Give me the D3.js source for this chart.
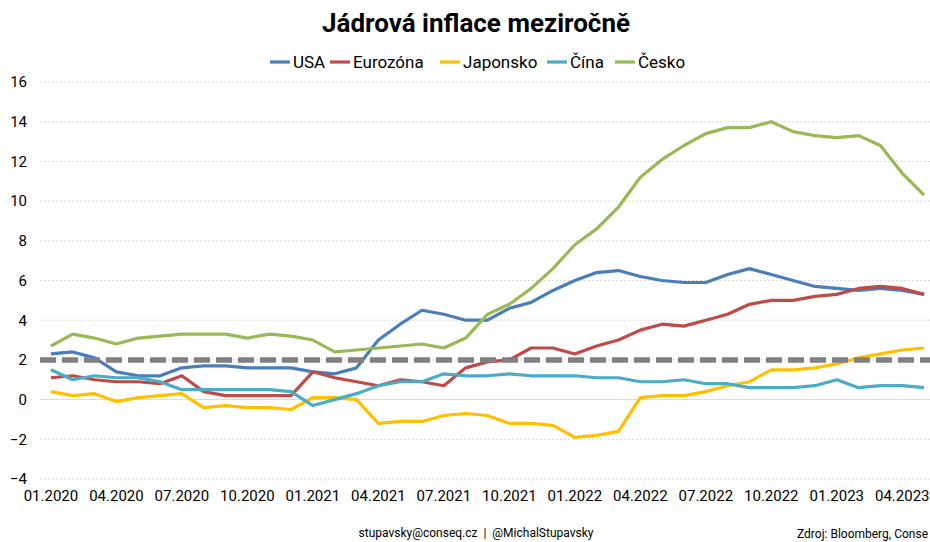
<!DOCTYPE html>
<html>
<head>
<meta charset="utf-8">
<script src="https://cdn.jsdelivr.net/npm/d3@7"></script>
<style>
	body { margin: 0; background: #fff; overflow: hidden; }
	#chart { width: 930px; height: 542px; }
	text { font-family: "Liberation Sans Narrow", "Roboto", sans-serif; fill: #000; }
</style>
</head>
<body>
<div id="chart"></div>
<script>
const months = [
	"01.2020","02.2020","03.2020","04.2020","05.2020","06.2020","07.2020","08.2020","09.2020","10.2020","11.2020","12.2020",
	"01.2021","02.2021","03.2021","04.2021","05.2021","06.2021","07.2021","08.2021","09.2021","10.2021","11.2021","12.2021",
	"01.2022","02.2022","03.2022","04.2022","05.2022","06.2022","07.2022","08.2022","09.2022","10.2022","11.2022","12.2022",
	"01.2023","02.2023","03.2023","04.2023","05.2023"
];

const usa = [2.3,2.4,2.1,1.4,1.2,1.2,1.6,1.7,1.7,1.6,1.6,1.6,1.4,1.3,1.6,3.0,3.8,4.5,4.3,4.0,4.0,4.6,4.9,5.5,6.0,6.4,6.5,6.2,6.0,5.9,5.9,6.3,6.6,6.3,6.0,5.7,5.6,5.5,5.6,5.5,5.3];
const eurozona = [1.1,1.2,1.0,0.9,0.9,0.8,1.2,0.4,0.2,0.2,0.2,0.2,1.4,1.1,0.9,0.7,1.0,0.9,0.7,1.6,1.9,2.0,2.6,2.6,2.3,2.7,3.0,3.5,3.8,3.7,4.0,4.3,4.8,5.0,5.0,5.2,5.3,5.6,5.7,5.6,5.3];
const japonsko = [0.4,0.2,0.3,-0.1,0.1,0.2,0.3,-0.4,-0.3,-0.4,-0.4,-0.5,0.1,0.1,0.0,-1.2,-1.1,-1.1,-0.8,-0.7,-0.8,-1.2,-1.2,-1.3,-1.9,-1.8,-1.6,0.1,0.2,0.2,0.4,0.7,0.9,1.5,1.5,1.6,1.8,2.1,2.3,2.5,2.6];
const cina = [1.5,1.0,1.2,1.1,1.1,0.9,0.5,0.5,0.5,0.5,0.5,0.4,-0.3,0.0,0.3,0.7,0.9,0.9,1.3,1.2,1.2,1.3,1.2,1.2,1.2,1.1,1.1,0.9,0.9,1.0,0.8,0.8,0.6,0.6,0.6,0.7,1.0,0.6,0.7,0.7,0.6];
const cesko = [2.7,3.3,3.1,2.8,3.1,3.2,3.3,3.3,3.3,3.1,3.3,3.2,3.0,2.4,2.5,2.6,2.7,2.8,2.6,3.1,4.3,4.8,5.6,6.6,7.8,8.6,9.7,11.2,12.1,12.8,13.4,13.7,13.7,14.0,13.5,13.3,13.2,13.3,12.8,11.4,10.3];

const seriesNames = ["USA", "Eurozóna", "Japonsko", "Čína", "Česko"];
const seriesValues = [usa, eurozona, japonsko, cina, cesko];
const seriesColors = ["#4a7ebb", "#be4b48", "#ffc000", "#4bacc6", "#98b954"];

const yTicks = [-4, -2, 0, 2, 4, 6, 8, 10, 12, 14, 16];
const target = 2;

const width = 930;
const height = 542;
const plot = {left: 40, right: 935, top: 82, bottom: 479};

const svg = d3.select("#chart")
	.append("svg")
		.attr("width", width)
		.attr("height", height);

const x = d3.scaleBand()
	.domain(months)
	.range([plot.left, plot.right]);

const y = d3.scaleLinear()
	.domain([-4, 16])
	.range([plot.bottom, plot.top]);

const cx = (m) => x(m) + x.bandwidth() / 2;

// Title
svg.append("text")
	.attr("x", 476)
	.attr("y", 32)
	.attr("text-anchor", "middle")
	.style("font-size", "26px")
	.style("font-weight", "bold")
	.text("Jádrová inflace meziročně");

// Gridlines
svg.append("g")
	.selectAll("line")
	.data(yTicks)
	.join("line")
		.attr("x1", plot.left)
		.attr("x2", width)
		.attr("y1", (d) => y(d))
		.attr("y2", (d) => y(d))
		.style("stroke", "#d9d9d9")
		.style("stroke-width", 1)
		.style("stroke-dasharray", (d) => d === 0 ? null : "2,2");

// Y axis labels
const yAxis = svg.append("g")
	.attr("transform", `translate(${plot.left}, 0)`)
	.call(d3.axisLeft(y).tickValues(yTicks).tickSize(0).tickPadding(13));
yAxis.select(".domain").remove();
yAxis.selectAll("text")
	.style("font-size", "15px")
	.style("font-family", null);

// X axis labels
const xAxis = svg.append("g")
	.attr("transform", `translate(0, ${plot.bottom})`)
	.call(d3.axisBottom(x).tickValues(months.filter((m, i) => i % 3 === 0)).tickSize(0).tickPadding(11));
xAxis.select(".domain").remove();
xAxis.selectAll("text")
	.style("font-size", "15px")
	.style("font-family", null);

// Series lines
const line = d3.line()
	.x((d, i) => cx(months[i]))
	.y((d) => y(d));

svg.append("g")
	.selectAll("path")
	.data(seriesValues)
	.join("path")
		.attr("d", (d) => line(d))
		.style("fill", "none")
		.style("stroke", (d, i) => seriesColors[i])
		.style("stroke-width", 3.2)
		.style("stroke-linejoin", "round");

// 2% target line
svg.append("line")
	.attr("x1", plot.left)
	.attr("x2", width)
	.attr("y1", y(target))
	.attr("y2", y(target))
	.style("stroke", "#808080")
	.style("stroke-width", 5.5)
	.style("stroke-dasharray", "16,6");

// Legend
const legendX = [270, 330, 440, 547, 615];
const legend = svg.append("g")
	.selectAll("g")
	.data(seriesNames)
	.join("g")
		.attr("transform", (d, i) => `translate(${legendX[i]}, 62)`);

legend.append("line")
	.attr("x1", 0)
	.attr("x2", 20)
	.style("stroke", (d, i) => seriesColors[i])
	.style("stroke-width", 3.2);

legend.append("text")
	.attr("x", 23)
	.attr("y", 6)
	.style("font-size", "17px")
	.text((d) => d);

// Footer
svg.append("text")
	.attr("x", 476)
	.attr("y", 537)
	.attr("text-anchor", "middle")
	.style("font-size", "12px")
	.style("white-space", "pre")
	.text("stupavsky@conseq.cz  |  @MichalStupavsky");

svg.append("text")
	.attr("x", 928)
	.attr("y", 538)
	.attr("text-anchor", "end")
	.style("font-size", "12px")
	.text("Zdroj: Bloomberg, Conse");
</script>
</body>
</html>
